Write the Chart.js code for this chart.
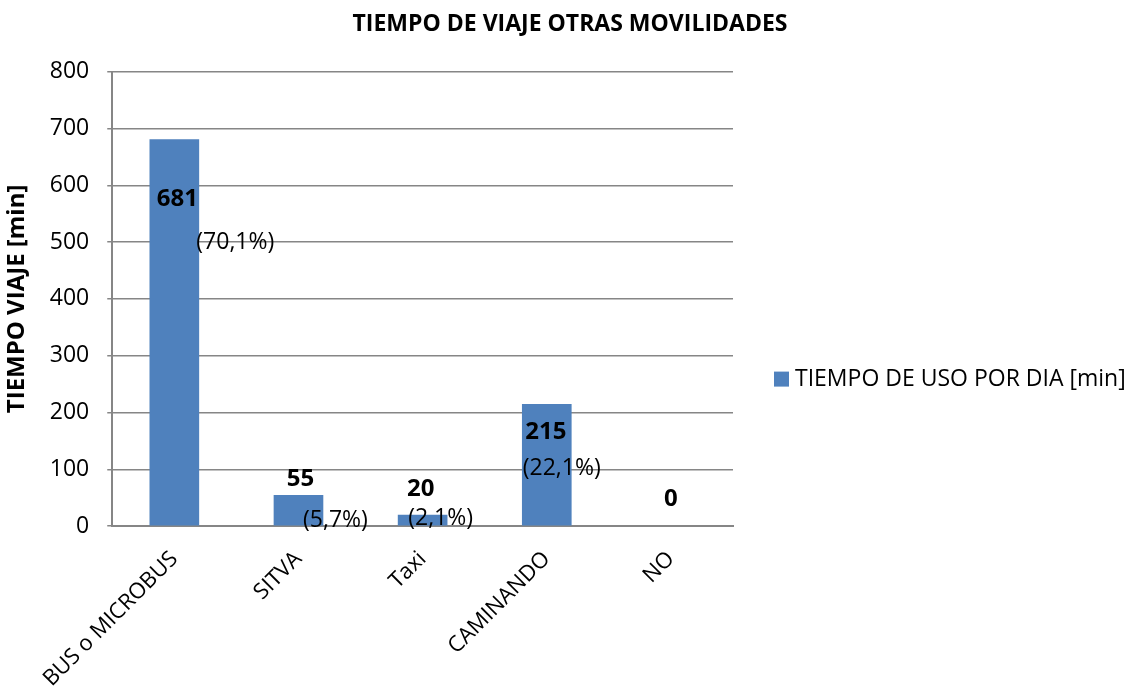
<!DOCTYPE html>
<html>
<head>
<meta charset="utf-8">
<script src="https://cdn.jsdelivr.net/npm/chart.js@4.4.0/dist/chart.umd.min.js"></script>
<style>
  html, body { margin: 0; padding: 0; background: #fff; }
</style>
</head>
<body>
<canvas id="chart1" width="1137" height="695"></canvas>
<script>
// data
const categories = ['BUS o MICROBUS', 'SITVA', 'Taxi', 'CAMINANDO', 'NO'];
const minutes = [681, 55, 20, 215, 0];
const shares = ['(70,1%)', '(5,7%)', '(2,1%)', '(22,1%)', ''];
const yTicks = [0, 100, 200, 300, 400, 500, 600, 700, 800];
const seriesName = 'TIEMPO DE USO POR DIA [min]';

const FONT = '"Open Sans", sans-serif';
const BLUE = '#4F81BD';

// label offsets, px from the bar top centre (Excel put them a bit all over)
const valOff = [[3, 60], [2, -16], [-2, -26], [-1, 28], [0, -27]];
const pctOff = [[61, 103], [37, 25], [18, 4], [15, 64], [0, 0]];

const barLabels = {
  id: 'barLabels',
  afterDatasetsDraw(chart) {
    const ctx = chart.ctx;
    const x = chart.scales.x, y = chart.scales.y;
    ctx.save();
    ctx.fillStyle = '#000';
    ctx.textAlign = 'center';
    ctx.textBaseline = 'middle';
    for (let i = 0; i < minutes.length; i++) {
      const cx = x.getPixelForValue(i);
      const cy = y.getPixelForValue(minutes[i]);
      ctx.font = 'bold 24px ' + FONT;
      ctx.fillText(String(minutes[i]), cx + valOff[i][0], cy + valOff[i][1]);
      if (shares[i]) {
        ctx.font = '23px ' + FONT;
        ctx.fillText(shares[i], cx + pctOff[i][0], cy + pctOff[i][1]);
      }
    }
    ctx.restore();
  }
};

// legend drawn by hand into the empty right axis
const sideLegend = {
  id: 'sideLegend',
  afterDraw(chart) {
    const ctx = chart.ctx;
    const a = chart.chartArea;
    const ds = chart.data.datasets[0];
    const lx = a.right + 41;
    const ly = a.top + 307;
    ctx.save();
    ctx.fillStyle = ds.backgroundColor;
    ctx.fillRect(lx, ly - 7, 15, 15);
    ctx.fillStyle = '#000';
    ctx.font = '23px ' + FONT;
    ctx.textAlign = 'left';
    ctx.textBaseline = 'middle';
    ctx.fillText(ds.label, lx + 21, ly + 1);
    ctx.restore();
  }
};

const config = {
  type: 'bar',
  data: {
    labels: categories,
    datasets: [{
      label: seriesName,
      data: minutes,
      backgroundColor: BLUE,
      borderWidth: 0,
      categoryPercentage: 1,
      barPercentage: 0.4
    }]
  },
  options: {
    responsive: false,
    animation: false,
    layout: { padding: { left: 3, right: 0, top: 0, bottom: -9 } },
    plugins: {
      title: {
        display: true,
        text: 'TIEMPO DE VIAJE OTRAS MOVILIDADES',
        color: '#000',
        font: { family: FONT, size: 23, weight: 'bold' },
        padding: { top: 11, bottom: 33 }
      },
      legend: { display: false },
      tooltip: { enabled: false }
    },
    scales: {
      x: {
        grid: { display: false },
        border: { display: true, color: '#868686', width: 2 },
        ticks: {
          color: '#000',
          font: { family: FONT, size: 22 },
          minRotation: 45,
          maxRotation: 45,
          padding: 12
        }
      },
      y: {
        min: 0,
        max: 800,
        afterBuildTicks(axis) { axis.ticks = yTicks.map(v => ({ value: v })); },
        grid: { color: '#868686', lineWidth: 1.5, tickLength: 5 },
        border: { display: true, color: '#868686', width: 2 },
        ticks: {
          color: '#000',
          font: { family: FONT, size: 23 },
          padding: 18
        },
        title: {
          display: true,
          text: 'TIEMPO VIAJE [min]',
          color: '#000',
          font: { family: FONT, size: 24, weight: 'bold' },
          padding: { top: 0, bottom: 0 }
        }
      },
      // empty space on the right for the legend
      side: {
        type: 'linear',
        position: 'right',
        display: true,
        grid: { display: false },
        border: { display: false },
        ticks: { display: false },
        afterFit(scale) { scale.width = 404; }
      }
    }
  },
  plugins: [barLabels, sideLegend]
};

const myChart = new Chart(document.getElementById('chart1'), config);
</script>
</body>
</html>
